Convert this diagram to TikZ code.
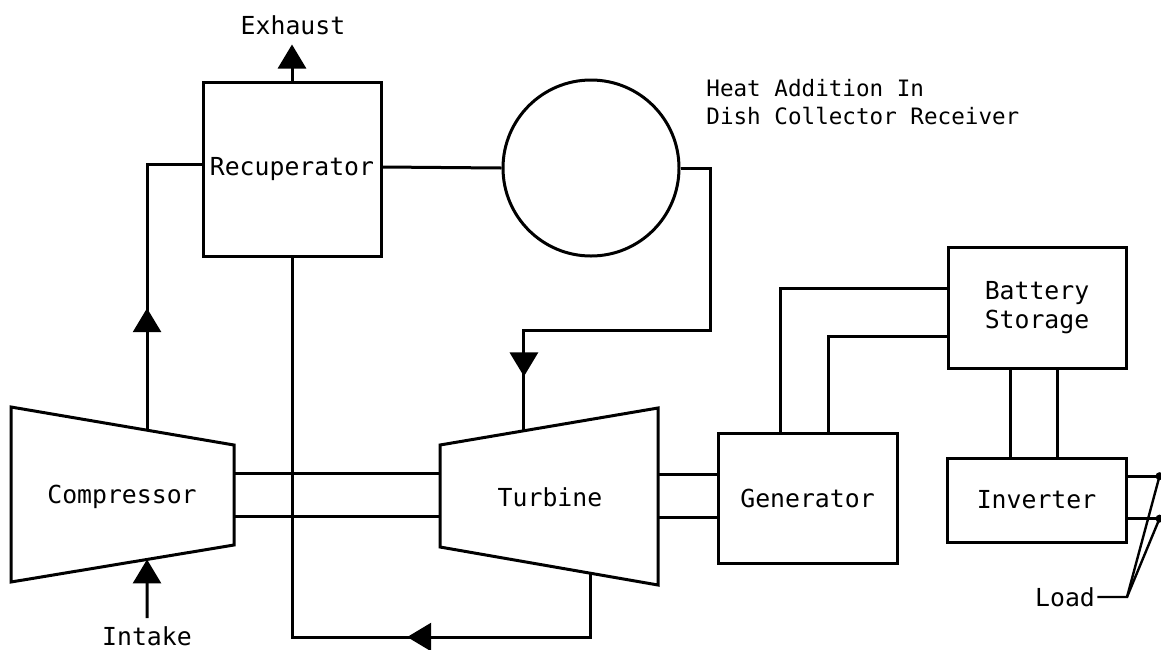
\documentclass[tikz,border=0pt]{standalone}
\usepackage{fontspec}
\setmonofont{DejaVu Sans Mono}
\usetikzlibrary{positioning,arrows.meta,calc,decorations.markings}

\tikzset{
  pipe/.style={line width=1.5pt},
  unit/.style={draw,line width=1.5pt,inner sep=0pt,
    font=\ttfamily\fontsize{12.4}{14.5}\selectfont},
  lbl/.style={font=\ttfamily\fontsize{12.4}{14.5}\selectfont,inner sep=1pt},
  flowtip/.style={-{Triangle[length=12pt,width=14pt]}},
  midflow/.style={postaction={decorate},decoration={markings,
    mark=at position #1 with {\arrow{Triangle[length=12pt,width=14pt]}}}},
  dot/.style={circle,fill,inner sep=0pt,minimum size=4pt}
}

\begin{document}
\begin{tikzpicture}[x=0.5pt,y=-0.5pt]
\useasboundingbox (0,0) rectangle (1161,649);

% boxes and receiver
\node[unit,minimum width=89pt,minimum height=87pt] (rec) at (292,169) {\raisebox{2.5pt}{Recuperator}};
\node[unit,circle,minimum size=88pt] (heat) at (591,168) {};
\node[unit,minimum width=89.5pt,minimum height=65pt] (gen) at (807.5,498) {Generator};
\node[unit,minimum width=89pt,minimum height=60.5pt,align=center] (bat) at (1037,307.5) {Battery\\Storage};
\node[unit,minimum width=89.5pt,minimum height=42pt] (inv) at (1036.5,500) {Inverter};

% compressor and turbine
\coordinate (c1) at (11,407);
\coordinate (c2) at (234,445);
\coordinate (c3) at (234,545);
\coordinate (c4) at (11,582);
\draw[pipe] (c1) -- (c2) -- (c3) -- (c4) -- cycle;
\node[lbl] (comp) at (122,497) {Compressor};
\coordinate (t1) at (440,445);
\coordinate (t2) at (658,408);
\coordinate (t3) at (658,585);
\coordinate (t4) at (440,547);
\draw[pipe] (t1) -- (t2) -- (t3) -- (t4) -- cycle;
\node[lbl] (turb) at (550,497) {Turbine};

% labels
\node[lbl] (exh) at (293,25) {Exhaust};
\node[lbl] (intake) at (147,636) {Intake};
\node[lbl] (load) at (1065,597) {Load};
\node[lbl,anchor=west,align=left,font=\ttfamily\fontsize{11.3}{14}\selectfont]
  (heattxt) at (704,102) {Heat Addition In\\Dish Collector Receiver};

% shafts
\coordinate (sa) at ($(c2)!0.28!(c3)$);
\coordinate (sb) at ($(c2)!0.71!(c3)$);
\draw[pipe] (sa) -- (sa -| t1);
\draw[pipe] (sb) -- (sb -| t1);
\coordinate (ga) at ($(gen.north west)!0.323!(gen.south west)$);
\coordinate (gb) at ($(gen.north west)!0.646!(gen.south west)$);
\draw[pipe] (ga -| t2) -- (ga);
\draw[pipe] (gb -| t2) -- (gb);

% gas flow
\coordinate (cup) at ($(c1)!0.61!(c2)$);
\coordinate (cin) at ($(c4)!0.61!(c3)$);
\coordinate (tin) at ($(t1)!0.385!(t2)$);
\coordinate (tout) at ($(t4)!0.69!(t3)$);
\coordinate (loop) at (292,637);
\draw[pipe,flowtip] ([yshift=3pt]intake.north) -- (cin);
\draw[pipe,midflow=61pt] (cup) |- ([yshift=2.5pt]rec.west);
\draw[pipe] ([yshift=1pt]rec.east) -- (heat.west);
\draw[pipe,midflow=212pt] (heat.east) -| (710,330) -| (tin);
\draw[pipe,midflow=123.5pt] (tout) |- (loop) -- (rec.south);
\draw[pipe,flowtip] (rec.north) -- ++(0,-36);

% electrical
\coordinate (g1) at ($(gen.north west)!0.352!(gen.north east)$);
\coordinate (g2) at ($(gen.north west)!0.615!(gen.north east)$);
\coordinate (b1) at ($(bat.north west)!0.347!(bat.south west)$);
\coordinate (b2) at ($(bat.north west)!0.736!(bat.south west)$);
\draw[pipe] (g1) |- (b1);
\draw[pipe] (g2) |- (b2);
\coordinate (b3) at ($(bat.south west)!0.354!(bat.south east)$);
\coordinate (b4) at ($(bat.south west)!0.612!(bat.south east)$);
\draw[pipe] (b3) -- (b3 |- inv.north);
\draw[pipe] (b4) -- (b4 |- inv.north);
\coordinate (i1) at ($(inv.north east)!0.226!(inv.south east)$);
\coordinate (i2) at ($(inv.north east)!0.714!(inv.south east)$);
\node[dot] (o1) at ([xshift=16pt]i1) {};
\node[dot] (o2) at ([xshift=16pt]i2) {};
\draw[pipe] (i1) -- (o1.center);
\draw[pipe] (i2) -- (o2.center);
\coordinate (lc) at (1127,597);
\draw[line width=1.2pt] (load.east) -- (lc) -- (o1.center);
\draw[line width=1.2pt] (lc) -- (o2.center);
\end{tikzpicture}
\end{document}
